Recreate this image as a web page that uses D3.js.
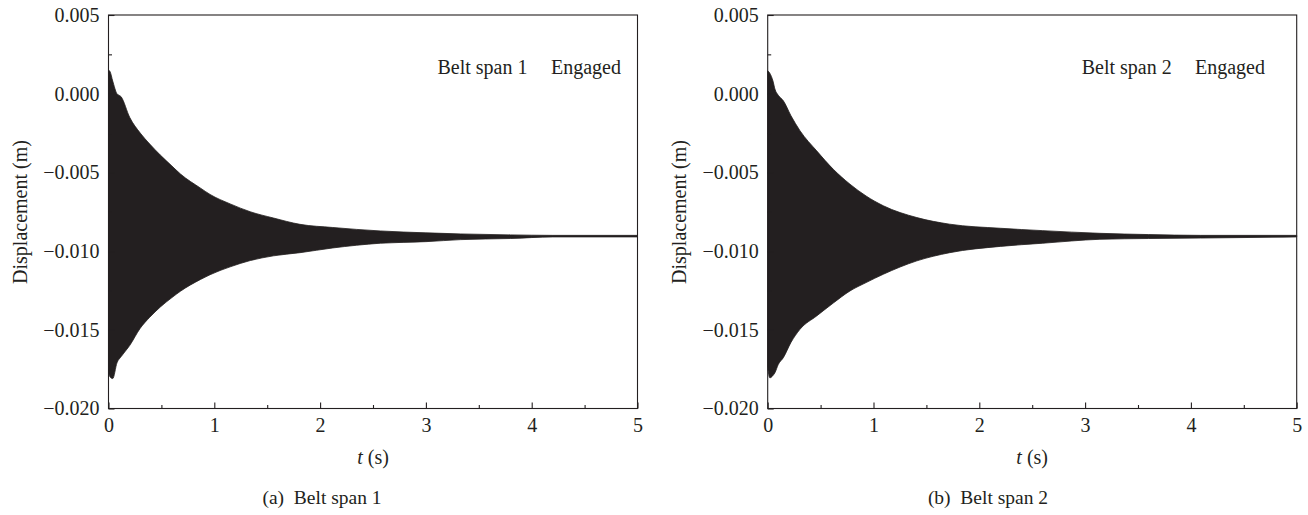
<!DOCTYPE html>
<html>
<head>
<meta charset="utf-8">
<script src="https://cdn.jsdelivr.net/npm/d3@7"></script>
<style>
  html, body { margin: 0; padding: 0; background: #fff; }
  svg { display: block; }
  text { font-family: "Liberation Serif", "Times New Roman", serif; fill: #231f20; white-space: pre; }
</style>
</head>
<body>
<svg id="chart" width="1308" height="515"></svg>
<script>
// Envelope of the transient belt-span displacement (upper / lower peaks), m
const timeSpan1  = [0, 0.015, 0.04, 0.08, 0.12, 0.2, 0.3, 0.39, 0.49, 0.6, 0.68, 0.87, 0.96, 1.15, 1.34, 1.56, 1.81, 2.12, 2.57, 3.0, 3.33, 3.8, 4.2, 5.0];
const upperSpan1 = [0.0015, 0.0014, 0.0008, 0.0000, -0.0002, -0.0015, -0.0025, -0.0032, -0.0039, -0.0046, -0.0051, -0.0060, -0.0064, -0.0070, -0.0075, -0.0079, -0.0083, -0.0085, -0.00872, -0.00884, -0.00891, -0.00897, -0.0090, -0.0090];
const lowerSpan1 = [-0.0177, -0.0180, -0.0181, -0.0171, -0.0167, -0.0160, -0.0149, -0.0142, -0.01355, -0.01295, -0.01255, -0.0118, -0.0115, -0.0110, -0.0106, -0.0103, -0.0101, -0.0098, -0.0095, -0.0094, -0.00927, -0.0092, -0.0091, -0.0091];

const timeSpan2  = [0, 0.02, 0.05, 0.068, 0.1, 0.148, 0.22, 0.305, 0.463, 0.62, 0.778, 0.93, 1.093, 1.41, 1.72, 2.2, 2.6, 3.14, 3.6, 4.09, 5.0];
const upperSpan2 = [0.00146, 0.0013, 0.0008, 0.0003, -0.0001, -0.00045, -0.0014, -0.00235, -0.00363, -0.0048, -0.00575, -0.0065, -0.00712, -0.00787, -0.00829, -0.00855, -0.0087, -0.00887, -0.00895, -0.0090, -0.0090];
const lowerSpan2 = [-0.0174, -0.01805, -0.0179, -0.01773, -0.0172, -0.01677, -0.0158, -0.01497, -0.01412, -0.0133, -0.01253, -0.0120, -0.01147, -0.01062, -0.0101, -0.0097, -0.0095, -0.00925, -0.0092, -0.00917, -0.0091];

// Axis ticks and labels
const xTicks = [0, 1, 2, 3, 4, 5];
const xMinorTicks = [0.5, 1.5, 2.5, 3.5, 4.5];
const yTicks = [-0.020, -0.015, -0.010, -0.005, 0.000, 0.005];
const yMinorTicks = [-0.0175, -0.0125, -0.0075, -0.0025, 0.0025];
const panelNames = ["Belt span 1", "Belt span 2"];
const stateLabel = "Engaged";
const captions = ["(a)  Belt span 1", "(b)  Belt span 2"];
const xLabel = "t";
const yLabel = "Displacement (m)";

const ink = "#231f20";
const svg = d3.select("#chart");

const panels = [
  { left: 108.5, time: timeSpan1, upper: upperSpan1, lower: lowerSpan1,
    name: panelNames[0], caption: captions[0], nameX: 329, tagX: 442.5, captionX: 322 },
  { left: 767.7, time: timeSpan2, upper: upperSpan2, lower: lowerSpan2,
    name: panelNames[1], caption: captions[1], nameX: 314, tagX: 427.3, captionX: 988 }
];

const plotW = 529, plotTop = 15, plotBottom = 408.5;

panels.forEach(p => {
  const g = svg.append("g").attr("transform", `translate(${p.left},0)`);
  const x = d3.scaleLinear().domain([0, 5]).range([0, plotW]);
  const y = d3.scaleLinear().domain([-0.020, 0.005]).range([plotBottom, plotTop]);

  // filled oscillation envelope
  const pts = p.time.map((t, i) => ({ t, hi: p.upper[i], lo: p.lower[i] }));
  const area = d3.area()
    .x(d => x(d.t))
    .y0(d => y(d.lo))
    .y1(d => y(d.hi))
    .curve(d3.curveMonotoneX);
  g.append("path")
    .datum(pts)
    .attr("d", area)
    .attr("fill", ink)
    .attr("stroke", ink)
    .attr("stroke-width", 0.8);

  // frame
  g.append("rect")
    .attr("x", 0).attr("y", plotTop)
    .attr("width", plotW).attr("height", plotBottom - plotTop)
    .attr("fill", "none").attr("stroke", ink).attr("stroke-width", 1.1);

  // y axis (ticks point inward)
  const yAxis = g.append("g")
    .call(d3.axisLeft(y).tickValues(yTicks).tickSize(-6).tickPadding(9)
      .tickFormat(d3.format(".3f")));
  yAxis.select(".domain").remove();
  yAxis.selectAll("line").attr("stroke", ink).attr("stroke-width", 1.1);
  yAxis.selectAll("text").attr("font-size", 20).attr("font-family", "Liberation Serif").attr("fill", ink);

  const yMinor = g.append("g")
    .call(d3.axisLeft(y).tickValues(yMinorTicks).tickSize(-3.5).tickFormat(""));
  yMinor.select(".domain").remove();
  yMinor.selectAll("line").attr("stroke", ink).attr("stroke-width", 1.1);

  // x axis (ticks point inward)
  const xAxis = g.append("g").attr("transform", `translate(0,${plotBottom})`)
    .call(d3.axisBottom(x).tickValues(xTicks).tickSize(-6).tickPadding(9)
      .tickFormat(d3.format("d")));
  xAxis.select(".domain").remove();
  xAxis.selectAll("line").attr("stroke", ink).attr("stroke-width", 1.1);
  xAxis.selectAll("text").attr("font-size", 20).attr("font-family", "Liberation Serif").attr("fill", ink);

  const xMinor = g.append("g").attr("transform", `translate(0,${plotBottom})`)
    .call(d3.axisBottom(x).tickValues(xMinorTicks).tickSize(-3.5).tickFormat(""));
  xMinor.select(".domain").remove();
  xMinor.selectAll("line").attr("stroke", ink).attr("stroke-width", 1.1);

  // axis titles
  const xt = g.append("text")
    .attr("x", plotW / 2).attr("y", 464)
    .attr("text-anchor", "middle").attr("font-size", 20);
  xt.append("tspan").attr("font-style", "italic").text(xLabel);
  xt.append("tspan").text(" (s)");

  g.append("text")
    .attr("transform", `translate(-82,212) rotate(-90)`)
    .attr("text-anchor", "middle").attr("font-size", 20)
    .text(yLabel);

  // in-plot annotation
  g.append("text").attr("x", p.nameX).attr("y", 74).attr("font-size", 20).text(p.name);
  g.append("text").attr("x", p.tagX).attr("y", 74).attr("font-size", 20).text(stateLabel);

  // sub-figure caption
  svg.append("text")
    .attr("x", p.captionX).attr("y", 504)
    .attr("text-anchor", "middle").attr("font-size", 19.5)
    .text(p.caption);
});
</script>
</body>
</html>
